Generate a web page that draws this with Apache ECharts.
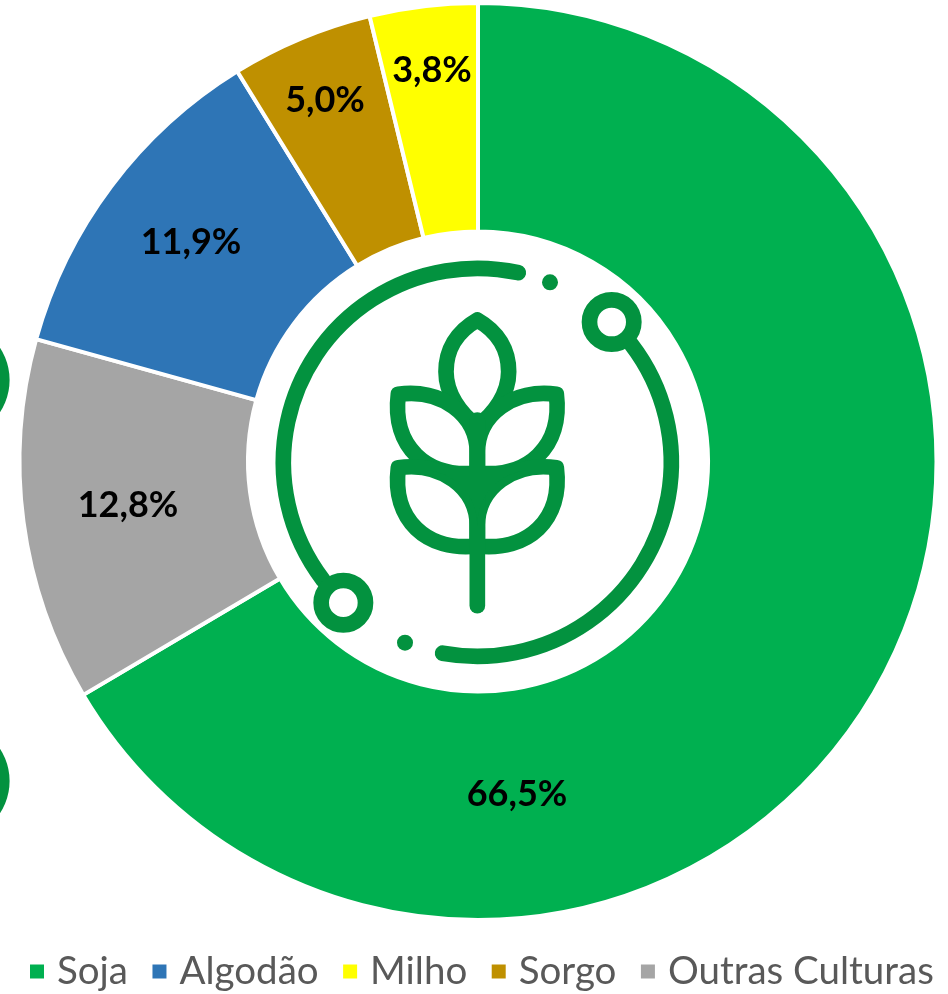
<!DOCTYPE html>
<html>
<head>
<meta charset="utf-8">
<title>Culturas</title>
<script src="https://cdn.jsdelivr.net/npm/echarts@6/dist/echarts.min.js"></script>
<style>
  html, body { margin: 0; padding: 0; background: #fff; }
  #chart { width: 948px; height: 994px; }
</style>
</head>
<body>
<div id="chart"></div>
<script>
// fatias no sentido horario a partir do topo
const categories = ['Soja', 'Outras Culturas', 'Algodão', 'Sorgo', 'Milho']
const values = [66.5, 12.8, 11.9, 5.0, 3.8]
const colors = ['#00B050', '#A5A5A5', '#2E75B6', '#BF9000', '#FFFF00']
const legendOrder = ['Soja', 'Algodão', 'Milho', 'Sorgo', 'Outras Culturas']

const labelPos = [[517, 794], [128, 505], [191, 242], [325, 100], [432, 70]]

const iconColor = '#03923F'

// o componente graphic nao tem tipo path, entao cada traco vira uma forma registrada
let shapeCount = 0
const pathShape = (d) => {
  const name = 'iconPath' + shapeCount++
  echarts.graphic.registerShape(name, echarts.graphic.extendPath(d, {}))
  return name
}
const line = (d) => ({
  type: pathShape(d),
  style: { fill: 'none', stroke: iconColor, lineWidth: 47, lineCap: 'round', lineJoin: 'round' },
})
const deg = (a) => (a * Math.PI) / 180
const arc = (start, end) => ({
  type: 'arc',
  shape: { cx: 652, cy: 667, r: 582, startAngle: deg(start), endAngle: deg(end), clockwise: false },
  style: { fill: 'none', stroke: iconColor, lineWidth: 47, lineCap: 'round' },
})
const ring = (cx, cy) => ({
  type: 'circle',
  shape: { cx, cy, r: 66.5 },
  style: { fill: '#fff', stroke: iconColor, lineWidth: 47 },
})
const dot = (cx, cy, r) => ({
  type: 'circle',
  shape: { cx, cy, r },
  style: { fill: iconColor },
})

// icone central, desenhado nas coordenadas do recorte x3
const icon = {
  type: 'group',
  x: 260,
  y: 240,
  scaleX: 1 / 3,
  scaleY: 1 / 3,
  silent: true,
  children: [
    arc(-77.8, -217.4),
    arc(100.3, -37.6),
    ring(1055, 246),
    ring(250, 1088),
    dot(870, 127, 24),
    dot(435, 1208, 24),
    line('M652,240 C590,275 558,330 558,395 C558,460 600,520 652,558 C704,520 746,460 746,395 C746,330 714,275 652,240 Z'),
    line('M415,463 C540,445 652,520 652,640 L652,699 C500,715 395,620 415,463 Z'),
    line('M889,463 C764,445 652,520 652,640 L652,699 C804,715 909,620 889,463 Z'),
    line('M415,683 C540,665 652,740 652,860 L652,918 C500,935 395,840 415,683 Z'),
    line('M889,683 C764,665 652,740 652,860 L652,918 C804,935 909,840 889,683 Z'),
    line('M652,540 L652,1097'),
    {
      type: pathShape('M500,690 L804,690 C720,700 652,760 652,860 C652,760 584,700 500,690 Z'),
      style: { fill: iconColor },
    },
  ],
}

const chart = echarts.init(document.getElementById('chart'), null, { renderer: 'canvas' })

chart.setOption({
  animation: false,
  color: colors,
  legend: {
    data: legendOrder,
    left: 28,
    top: 952,
    padding: 0,
    icon: 'rect',
    itemWidth: 16,
    itemHeight: 16,
    itemGap: 22.5,
    textStyle: { color: '#595959', fontSize: 38.5, fontFamily: 'Lato', padding: [4, 0, 0, 7] },
  },
  series: [
    {
      type: 'pie',
      center: [478, 461.5],
      radius: [230, 458.5],
      startAngle: 90,
      clockwise: true,
      data: categories.map((name, i) => ({ name, value: values[i] })),
      itemStyle: { borderColor: '#fff', borderWidth: 4 },
      label: {
        show: true,
        position: 'inside',
        color: '#000',
        fontSize: 36,
        fontWeight: 'bold',
        fontFamily: 'Lato',
        formatter: (p) => p.value.toFixed(1).replace('.', ',') + '%',
      },
      labelLine: { show: false },
      labelLayout: (p) => ({
        x: labelPos[p.dataIndex][0],
        y: labelPos[p.dataIndex][1],
        align: 'center',
        verticalAlign: 'middle',
      }),
    },
  ],
  graphic: [
    icon,
    { type: 'circle', shape: { cx: -49, cy: 380, r: 58.6 }, style: { fill: iconColor }, silent: true },
    { type: 'circle', shape: { cx: -49, cy: 781, r: 58.6 }, style: { fill: iconColor }, silent: true },
  ],
})
</script>
</body>
</html>
